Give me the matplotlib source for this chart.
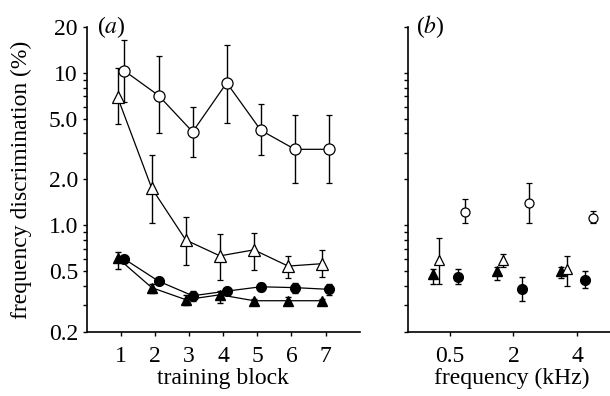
import matplotlib.pyplot as plt
from matplotlib.ticker import FixedLocator, NullFormatter, LogLocator

plt.rcParams['font.family'] = ['Liberation Serif', 'DejaVu Serif']
plt.rcParams['mathtext.fontset'] = 'stix'

# panel (a): training blocks
blocks = [1, 2, 3, 4, 5, 6, 7]

open_circ = [10.3, 7.1, 4.1, 8.6, 4.2, 3.15, 3.15]
open_circ_hi = [16.4, 12.9, 6.0, 15.2, 6.2, 5.3, 5.3]
open_circ_lo = [6.4, 4.0, 2.8, 4.7, 2.9, 1.9, 1.9]

open_tri = [6.9, 1.75, 0.80, 0.63, 0.69, 0.54, 0.56]
open_tri_hi = [10.7, 2.9, 1.14, 0.88, 0.89, 0.63, 0.69]
open_tri_lo = [4.6, 1.03, 0.55, 0.44, 0.51, 0.45, 0.46]

fill_circ = [0.60, 0.43, 0.345, 0.37, 0.395, 0.39, 0.38]
fill_circ_hi = [0.63, 0.45, 0.37, 0.39, 0.42, 0.42, 0.41]
fill_circ_lo = [0.57, 0.41, 0.32, 0.35, 0.37, 0.36, 0.35]

fill_tri = [0.61, 0.39, 0.325, 0.35, 0.32, 0.32, 0.32]
fill_tri_hi = [0.67, 0.41, 0.35, 0.37, 0.33, 0.34, 0.33]
fill_tri_lo = [0.52, 0.36, 0.30, 0.31, 0.31, 0.30, 0.30]

# panel (b): frequencies
freq_labels = ['0.5', '2', '4']
b_open_circ = [1.23, 1.41, 1.12]
b_open_circ_hi = [1.48, 1.88, 1.24]
b_open_circ_lo = [1.03, 1.03, 1.03]
b_open_tri = [0.59, 0.59, 0.52]
b_open_tri_hi = [0.82, 0.65, 0.63]
b_open_tri_lo = [0.41, 0.53, 0.40]
b_fill_tri = [0.48, 0.50, 0.50]
b_fill_tri_hi = [0.52, 0.53, 0.53]
b_fill_tri_lo = [0.41, 0.44, 0.45]
b_fill_circ = [0.46, 0.38, 0.44]
b_fill_circ_hi = [0.52, 0.46, 0.50]
b_fill_circ_lo = [0.41, 0.32, 0.39]


def err(v, hi, lo):
    return [[a - b for a, b in zip(v, lo)], [b - a for a, b in zip(v, hi)]]


fig = plt.figure(figsize=(6.1, 3.96), dpi=100)
ax1 = fig.add_axes([0.1426, 0.162, 0.447, 0.770])
ax2 = fig.add_axes([0.669, 0.162, 0.34, 0.770])

k = dict(color='black', lw=0.9, elinewidth=1.0, capsize=2, capthick=1.0)

xo = [b + 0.1 for b in blocks]
xt = [b - 0.1 for b in blocks]
ax1.errorbar(xo, open_circ, yerr=err(open_circ, open_circ_hi, open_circ_lo),
             marker='o', ms=8, mfc='white', mec='black', mew=0.9, **k)
ax1.errorbar(xt, open_tri, yerr=err(open_tri, open_tri_hi, open_tri_lo),
             marker='^', ms=8, mfc='white', mec='black', mew=0.9, **k)
ax1.errorbar(xo, fill_circ, yerr=err(fill_circ, fill_circ_hi, fill_circ_lo),
             marker='o', ms=7, mfc='black', mec='black', **k)
ax1.errorbar(xt, fill_tri, yerr=err(fill_tri, fill_tri_hi, fill_tri_lo),
             marker='^', ms=7, mfc='black', mec='black', **k)

pos = [1, 2, 3]
kb = dict(color='black', ls='none', elinewidth=1.0, capsize=2, capthick=1.0)
ax2.errorbar([p - 0.26 for p in pos], b_fill_tri,
             yerr=err(b_fill_tri, b_fill_tri_hi, b_fill_tri_lo),
             marker='^', ms=7, mfc='black', mec='black', **kb)
ax2.errorbar([p - 0.16 for p in pos], b_open_tri,
             yerr=err(b_open_tri, b_open_tri_hi, b_open_tri_lo),
             marker='^', ms=7, mfc='white', mec='black', mew=0.9, **kb)
ax2.errorbar([p + 0.13 for p in pos], b_fill_circ,
             yerr=err(b_fill_circ, b_fill_circ_hi, b_fill_circ_lo),
             marker='o', ms=7, mfc='black', mec='black', **kb)
ax2.errorbar([p + 0.24 for p in pos], b_open_circ,
             yerr=err(b_open_circ, b_open_circ_hi, b_open_circ_lo),
             marker='o', ms=6.5, mfc='white', mec='black', mew=0.9, **kb)

fs = 17
for ax in (ax1, ax2):
    ax.set_yscale('log')
    ax.set_ylim(0.2, 20)
    ax.spines['top'].set_visible(False)
    ax.spines['right'].set_visible(False)
    ax.spines['left'].set_linewidth(1.2)
    ax.spines['bottom'].set_linewidth(1.2)
    ax.yaxis.set_major_locator(FixedLocator([0.2, 0.5, 1, 2, 5, 10, 20]))
    ax.yaxis.set_minor_locator(LogLocator(base=10, subs=range(1, 10)))
    ax.yaxis.set_minor_formatter(NullFormatter())
    ax.tick_params(axis='both', which='both', direction='out', length=3,
                   width=1.0, labelsize=fs)
    ax.tick_params(axis='x', pad=7)

ax1.set_yticklabels(['0.2', '0.5', '1.0', '2.0', '5.0', '10', '20'])
ax1.set_xlim(0, 8)
ax1.set_xticks(blocks)
ax1.set_xlabel('training block', fontsize=fs, labelpad=1)
ax1.set_ylabel('frequency discrimination (%)', fontsize=fs, labelpad=12)
ax1.text(0.035, 1.0, r'($\mathit{a}$)', transform=ax1.transAxes,
         fontsize=fs, va='center')

ax2.set_xlim(0.35, 3.6)
ax2.set_xticks(pos)
ax2.set_xticklabels(freq_labels)
ax2.yaxis.set_major_formatter(NullFormatter())
ax2.set_xlabel('frequency (kHz)', fontsize=fs, labelpad=1)
ax2.text(0.04, 1.0, r'($\mathit{b}$)', transform=ax2.transAxes,
         fontsize=fs, va='center')

fig.savefig('out.png', dpi=100)
